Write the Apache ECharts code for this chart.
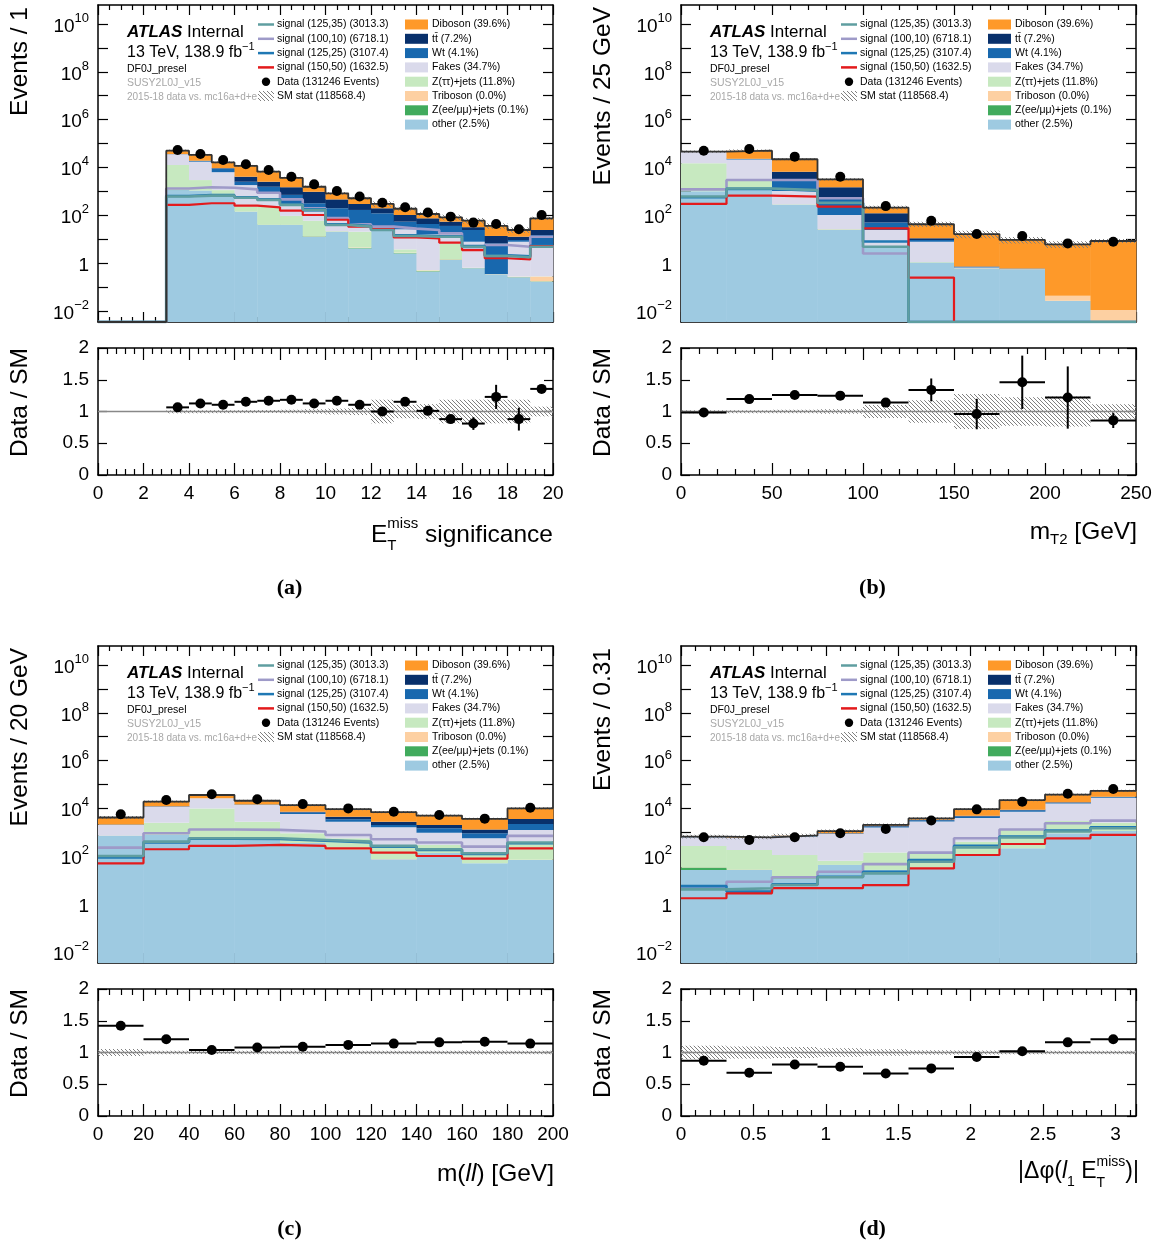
<!DOCTYPE html>
<html>
<head>
<meta charset="utf-8">
<title>ATLAS DF0J_presel distributions</title>
<script src="https://cdn.jsdelivr.net/npm/echarts@6.0.0/dist/echarts.min.js"></script>
<style>
html,body{margin:0;padding:0;background:#ffffff;}
#chart{width:1161px;height:1245px;}
</style>
</head>
<body>
<div id="chart"></div>
<script>
// ================= DATA =================
// ---- (a) ETmiss significance, bin width 1 ----
const edgesA = [0,1,2,3,4,5,6,7,8,9,10,11,12,13,14,15,16,17,18,19,20];
const otherA = [0,0,0,1122,1072,708,141,38.9,38.9,12.6,20.4,4.07,24.0,2.51,0.437,1.35,0.603,0.316,0.251,0.166];
const zeeA   = [0,0,0,5,4,3,2,1,1,0.5,0.3,0.2,0.3,0.1,0.02,0.05,0.01,0.005,0.005,0.005];
const tribA  = [0,0,0,1,1,1,1,0.5,0.5,0.3,0.3,0.2,0.2,0.1,0.03,0.05,0.01,0.005,0.01,0.1];
const zttA   = [0,0,0,11460,1874,410,85,189,53,45.5,0.5,15.9,0.6,1.0,0.02,5.16,0.01,0.005,0.005,0.005];
const fakesA = [0,0,0,22890,14427,5188,1591,584,202,82,60,25.3,5.8,22,15.7,12,7.13,0.01,7.49,5.34];
const wtA    = [0,0,0,300,1243,2603,692,736,413,175,114,120,89,28,26.5,16.9,16.2,6.27,1.36,9.2];
const ttA    = [0,0,0,300,434,420,1562,963,771,639,262,129,75,48.3,31.4,18.2,7.6,6.9,3.5,9.2];
const dibA   = [0,0,0,14040,14058,6885,7408,4095,2152,594,356,218,100,84,38,27.6,27.3,22,11.4,50.1];
const dataA  = [null,null,null,53700,36300,20400,13500,7760,4070,1950,1020,603,331,214,129,87,49,42.7,25.7,102];
const ratioA = [null,null,null,1.065,1.127,1.106,1.153,1.169,1.184,1.127,1.169,1.106,1.0,1.153,1.01,0.88,0.81,1.23,0.88,1.356];
const ratioErrA = [null,null,null,0.01,0.012,0.015,0.02,0.025,0.03,0.035,0.04,0.045,0.05,0.06,0.05,0.06,0.1,0.19,0.18,0.04];
const statErrA  = [0,0,0,0.003,0.004,0.005,0.006,0.008,0.012,0.02,0.03,0.04,0.17,0.09,0.1,0.17,0.17,0.17,0.17,0.06];
const sigTealA   = [0,0,0,603,661,661,537,437,269,166,38.9,33.1,24.0,13.5,12.6,12.6,4.79,1.95,1.74,4.79];
const sigPurpleA = [0,0,0,1318,1479,1413,1202,871,457,195,75.9,41.7,33.1,27.5,24.0,17.4,4.57,5.62,4.79,12.6];
const sigBlueA   = [0,0,0,640,700,690,560,460,285,175,42,35,26,14.5,13.4,13.2,5.1,2.1,1.9,5.2];
const sigRedA    = [0,0,0,269,316,316,251,214,155,102,64.6,33.1,26.3,11.7,10.7,7.08,3.47,1.58,1.41,5.13];

// ---- (b) mT2, bin width 25 GeV ----
const edgesB = [0,25,50,75,100,125,150,175,200,225,250];
const otherB = [1000,1413,269,24,4.57,1.02,0.60,0.51,0.0263,0];
const zeeB   = [5,5,2,0.5,0.1,0.02,0.005,0.005,0,0];
const tribB  = [1,1,1,0.5,0.1,0.02,0.01,0.01,0.0164,0.0107];
const zttB   = [13785,1399,10,1,0.2,0.02,0.005,0.005,0,0];
const fakesB = [28861,18562,741,76,19,6.7,0.03,0.02,0,0];
const wtB    = [200,1007,2139,411,25,1.36,0.03,0.02,0,0];
const ttB    = [200,522,3445,966,71,1.6,0.03,0.02,0,0];
const dibB   = [1657,27210,15271,1683,89,31,15.5,8.6,5.99,8.31];
const dataB  = [50100,58900,28200,4070,240,58.9,16.2,13.5,6.61,7.76];
const ratioB = [0.985,1.195,1.26,1.25,1.14,1.34,0.96,1.46,1.22,0.86];
const ratioErrB = [0.01,0.01,0.015,0.03,0.07,0.18,0.24,0.42,0.49,0.12];
const statErrB  = [0.005,0.005,0.01,0.02,0.085,0.16,0.26,0.21,0.22,0.1];
const sigTealB   = [603,1318,1122,331,4.79,0,0,0,0,0];
const sigPurpleB = [1202,2951,2951,513,2.51,0,0,0,0,0];
const sigBlueB   = [562,1259,1047,316,7.9,0,0,0,0,0];
const sigRedB    = [295,661,603,229,28.2,0.245,0,0,0,0];

// ---- (c) m(ll), bin width 20 GeV ----
const edgesC = [0,20,40,60,80,100,120,140,160,180,200];
const otherC = [708,794,479,525,355,182,74.1,135,50.1,69.2];
const zeeC   = [3,3,3,3,2,1,1,1,0.5,0.5];
const tribC  = [1,1,1,1,1,1,0.5,0.5,0.5,0.5];
const zttC   = [12,1714,9517,2225,554,378,193,158,81,337];
const fakesC = [1318,9237,16303,11050,4976,2192,1353,660,430,852];
const wtC    = [47,274,200,650,873,794,420,524,350,980];
const ttC    = [49,280,200,200,483,919,712,563,406,1392];
const dibC   = [2031,6752,9605,6239,6560,4866,4164,2970,2313,6369];
const dataC  = [5700,22400,38900,24000,15100,10000,7240,5250,3720,10700];
const ratioC = [1.42,1.21,1.04,1.08,1.09,1.12,1.14,1.16,1.17,1.14];
const ratioErrC = [0.02,0.01,0.01,0.01,0.01,0.012,0.014,0.016,0.02,0.012];
const statErrC  = [0.04,0.01,0.008,0.01,0.01,0.012,0.012,0.013,0.015,0.01];
const sigTealC   = [102,407,562,562,479,407,269,195,132,372];
const sigPurpleC = [229,912,1318,1259,1072,776,513,372,251,708];
const sigBlueC   = [89,380,537,525,447,380,251,182,123,347];
const sigRedC    = [50.1,195,269,295,269,214,141,102,79.4,214];

// ---- (d) |dphi(l1, ETmiss)|, bin width 0.31 ----
const edgesD = [0,0.31416,0.62832,0.94248,1.25664,1.5708,1.88496,2.19911,2.51327,2.82743,3.14159];
const otherD = [26.3,26.3,11.7,42.7,26.3,31.6,112,214,912,1122];
const zeeD   = [7.6,1,0.5,1,0.5,0.5,1,1,2,3];
const tribD  = [0.2,0.2,0.2,0.3,0.3,0.3,0.5,1,1,1];
const zttD   = [235,154,100,20.6,114,100,284,1043,2036,1386];
const fakesD = [348,393,549,786,1444,2686,3583,5985,12898,25672];
const wtD    = [14,8,31,40,153,344,590,1074,1529,2016];
const ttD    = [15,8,16,21,124,149,327,392,819,703];
const dibD   = [15,26,33,210,180,491,4435,13677,19822,22800];
const dataD  = [617,479,617,912,1380,3090,9120,19055,40738,64565];
const ratioD = [0.87,0.68,0.81,0.775,0.67,0.75,0.93,1.02,1.16,1.21];
const ratioErrD = [0.04,0.04,0.035,0.03,0.02,0.015,0.01,0.008,0.006,0.005];
const statErrD  = [0.09,0.08,0.07,0.05,0.035,0.02,0.015,0.01,0.01,0.01];
const sigTealD   = [4.07,4.57,6.2,13.2,19.1,58.9,234,603,1072,1479];
const sigPurpleD = [5.37,8.51,13.2,22.4,46.8,141,562,1318,2399,3090];
const sigBlueD   = [5.6,3.3,6.6,13.8,22.4,69,269,661,1175,1622];
const sigRedD    = [1.74,2.8,4.6,4.6,6.2,30.9,112,324,562,776];

// tick labels / legend texts
const logTickExps  = [-2,-1,0,1,2,3,4,5,6,7,8,9,10];
const logLabelExps = [-2,0,2,4,6,8,10];
const sigLegend = ['signal (125,35) (3013.3)','signal (100,10) (6718.1)','signal (125,25) (3107.4)','signal (150,50) (1632.5)'];
const bkgLegend = ['Diboson (39.6%)','t\u0074\u0304 (7.2%)','Wt (4.1%)','Fakes (34.7%)','Z(\u03c4\u03c4)+jets (11.8%)','Triboson (0.0%)','Z(ee/\u03bc\u03bc)+jets (0.1%)','other (2.5%)'];

// ================= STYLE / LAYOUT =================
const FONT = '"Liberation Sans", Arial, Helvetica, sans-serif';
const STACK_COLORS = ['#9ecae1','#41ab5d','#fdd0a2','#c7e9c0','#dadaeb','#1868ae','#08306b','#fe9929']; // other,zee,trib,ztt,fakes,wt,tt,dib
const LEG_BKG_COLORS = ['#fe9929','#08306b','#1868ae','#dadaeb','#c7e9c0','#fdd0a2','#41ab5d','#9ecae1'];
const SIG_COLORS = ['#5f9ea0','#9e9ac8','#1f78b4','#e31a1c']; // (125,35),(100,10),(125,25),(150,50)
const YMIN = -2.469, YMAX = 10.795;
const W = 455, HM = 317, HR = 127;
const TITLE_SIZE = 24.5;

const panels = [
  {x:98,  yM:5,   yR:348, edges:edgesA, comps:[otherA,zeeA,tribA,zttA,fakesA,wtA,ttA,dibA], sigs:[sigTealA,sigPurpleA,sigBlueA,sigRedA], data:dataA, ratio:ratioA, rerr:ratioErrA, stat:statErrA, xInt:2,  minorM:4, minorR:5, showMax:true,  ytitle:'Events / 1',      label:'(a)'},
  {x:681, yM:5,   yR:348, edges:edgesB, comps:[otherB,zeeB,tribB,zttB,fakesB,wtB,ttB,dibB], sigs:[sigTealB,sigPurpleB,sigBlueB,sigRedB], data:dataB, ratio:ratioB, rerr:ratioErrB, stat:statErrB, xInt:50, minorM:5, minorR:5, showMax:true,  ytitle:'Events / 25 GeV', label:'(b)'},
  {x:98,  yM:646, yR:989, edges:edgesC, comps:[otherC,zeeC,tribC,zttC,fakesC,wtC,ttC,dibC], sigs:[sigTealC,sigPurpleC,sigBlueC,sigRedC], data:dataC, ratio:ratioC, rerr:ratioErrC, stat:statErrC, xInt:20, minorM:4, minorR:4, showMax:true,  ytitle:'Events / 20 GeV', label:'(c)'},
  {x:681, yM:646, yR:989, edges:edgesD, comps:[otherD,zeeD,tribD,zttD,fakesD,wtD,ttD,dibD], sigs:[sigTealD,sigPurpleD,sigBlueD,sigRedD], data:dataD, ratio:ratioD, rerr:ratioErrD, stat:statErrD, xInt:0.5,minorM:5, minorR:5, showMax:false, ytitle:'Events / 0.31',   label:'(d)'}
];

// hatch pattern
const hatchCanvas = (function(){
  const s = 4, c = document.createElement('canvas'); c.width = s; c.height = s;
  const g = c.getContext('2d'); g.strokeStyle = '#808080'; g.lineWidth = 1;
  g.beginPath(); g.moveTo(-1,-1); g.lineTo(s+1,s+1); g.moveTo(-1,s-1); g.lineTo(1,s+1); g.moveTo(s-1,-1); g.lineTo(s+1,1); g.stroke();
  return c;
})();
const HATCH = {image: hatchCanvas, repeat: 'repeat'};

function lg(v){ return (v > 0) ? Math.min(YMAX, Math.max(YMIN, Math.log10(v))) : YMIN; }
function powLabel(v){ const n = Math.round(v); if (n === 0) return '{b|1}'; return '{b|10}{e|' + (n < 0 ? '\u2212' + (-n) : n) + '}'; }
const POW_RICH = {
  b: {fontSize: 19, fontFamily: FONT, color: '#000', verticalAlign: 'bottom', lineHeight: 24},
  e: {fontSize: 13, fontFamily: FONT, color: '#000', verticalAlign: 'top', lineHeight: 13}
};
const AXLINE = {show:true, onZero:false, lineStyle:{color:'#000', width:1.5}};
const TICKSTYLE = {color:'#000', width:1.2};

const grids = [], xAxes = [], yAxes = [], series = [];

panels.forEach((P, p) => {
  const gM = 2*p, gR = 2*p+1;
  const n = P.edges.length - 1;
  const xmin = P.edges[0], xmax = P.edges[n];
  grids.push({left:P.x, top:P.yM, width:W, height:HM, show:false, outerBoundsMode:'none', containLabel:false});
  grids.push({left:P.x, top:P.yR, width:W, height:HR, show:false, outerBoundsMode:'none', containLabel:false});

  [[gM,false],[gR,true]].forEach(([g, isR]) => {
    const base = {type:'value', gridIndex:g, min:xmin, max:xmax, interval:P.xInt,
      axisLine:AXLINE, splitLine:{show:false}, minorSplitLine:{show:false},
      axisTick:{show:true, inside:true, length:isR?12:10, lineStyle:TICKSTYLE},
      minorTick:{show:true, splitNumber:isR?P.minorR:P.minorM, length:isR?6:5, lineStyle:TICKSTYLE}};
    xAxes.push(Object.assign({}, base, {position:'bottom',
      axisLabel: isR ? {show:true, fontSize:19, fontFamily:FONT, color:'#000', margin:9, showMinLabel:true, showMaxLabel:P.showMax} : {show:false}}));
    xAxes.push(Object.assign({}, base, {position:'top', axisLabel:{show:false}}));
  });
  const yMainBase = {type:'value', gridIndex:gM, min:YMIN, max:YMAX, axisLine:AXLINE, splitLine:{show:false},
    axisTick:{show:true, inside:true, length:10, customValues:logTickExps, lineStyle:TICKSTYLE}};
  yAxes.push(Object.assign({}, yMainBase, {position:'left',
    axisLabel:{show:true, customValues:logLabelExps, formatter:powLabel, rich:POW_RICH, margin:9}}));
  yAxes.push(Object.assign({}, yMainBase, {position:'right', axisLabel:{show:false}}));
  const yRBase = {type:'value', gridIndex:gR, min:0, max:2, interval:0.5, axisLine:AXLINE, splitLine:{show:false},
    axisTick:{show:true, inside:true, length:9, lineStyle:TICKSTYLE}};
  yAxes.push(Object.assign({}, yRBase, {position:'left',
    axisLabel:{show:true, fontSize:19, fontFamily:FONT, color:'#000', margin:9}}));
  yAxes.push(Object.assign({}, yRBase, {position:'right', axisLabel:{show:false}}));

  const xiM = 4*p, xiR = 4*p+2, yiM = 4*p, yiR = 4*p+2;

  // stacked backgrounds
  const cum = new Array(n).fill(0);
  const stackData = [];
  P.comps.forEach((arr, ci) => {
    for (let i = 0; i < n; i++) {
      const lo = cum[i], hi = lo + arr[i]; cum[i] = hi;
      if (arr[i] > 0) stackData.push([P.edges[i], P.edges[i+1], lg(lo), lg(hi), ci]);
    }
  });
  series.push({type:'custom', xAxisIndex:xiM, yAxisIndex:yiM, z:2, silent:true, data:stackData,
    renderItem:(params, api) => {
      const a = api.coord([api.value(0), api.value(3)]);
      const b = api.coord([api.value(1), api.value(2)]);
      return {type:'rect', shape:{x:a[0], y:a[1], width:b[0]-a[0]+0.4, height:b[1]-a[1]}, style:{fill:STACK_COLORS[api.value(4)]}};
    }});
  const total = cum.slice();

  // stat hatch on main
  const bandM = [];
  for (let i = 0; i < n; i++) if (total[i] > 0 && P.stat[i] > 0)
    bandM.push([P.edges[i], P.edges[i+1], lg(total[i]*(1-P.stat[i])), lg(total[i]*(1+P.stat[i]))]);
  series.push({type:'custom', xAxisIndex:xiM, yAxisIndex:yiM, z:3, silent:true, data:bandM,
    renderItem:(params, api) => {
      const a = api.coord([api.value(0), api.value(3)]);
      const b = api.coord([api.value(1), api.value(2)]);
      return {type:'rect', shape:{x:a[0], y:a[1]-1, width:b[0]-a[0], height:Math.max(2, b[1]-a[1]+2)}, style:{fill:HATCH}};
    }});

  // signals (drawn purple, blue, red, teal)
  [1,2,3,0].forEach((si, k) => {
    const vals = P.sigs[si];
    const pts = P.edges.map((e, i) => [e, lg(vals[Math.min(i, n-1)])]);
    series.push({type:'line', xAxisIndex:xiM, yAxisIndex:yiM, z:4+k*0.1, step:'end', symbol:'none', silent:true,
      data:pts, lineStyle:{color:SIG_COLORS[si], width: si===3 ? 2.2 : 2.6, opacity:1}});
  });

  // total outline
  series.push({type:'line', xAxisIndex:xiM, yAxisIndex:yiM, z:5, step:'end', symbol:'none', silent:true,
    data:P.edges.map((e, i) => [e, lg(total[Math.min(i, n-1)])]), lineStyle:{color:'#333', width:1.8, opacity:1}});

  // data points main
  const dpts = [];
  P.data.forEach((v, i) => { if (v != null) dpts.push([(P.edges[i]+P.edges[i+1])/2, lg(v)]); });
  series.push({type:'scatter', xAxisIndex:xiM, yAxisIndex:yiM, z:6, silent:true, symbol:'circle', symbolSize:10,
    itemStyle:{color:'#000', opacity:1}, data:dpts});

  // ratio: stat hatch band
  const bandR = [];
  for (let i = 0; i < n; i++) if (total[i] > 0 && P.stat[i] > 0)
    bandR.push([P.edges[i], P.edges[i+1], 1-P.stat[i], 1+P.stat[i]]);
  series.push({type:'custom', xAxisIndex:xiR, yAxisIndex:yiR, z:2, silent:true, data:bandR,
    renderItem:(params, api) => {
      const a = api.coord([api.value(0), api.value(3)]);
      const b = api.coord([api.value(1), api.value(2)]);
      return {type:'rect', shape:{x:a[0], y:a[1]-1, width:b[0]-a[0], height:Math.max(3, b[1]-a[1]+2)}, style:{fill:HATCH}};
    }});
  // unity line
  series.push({type:'line', xAxisIndex:xiR, yAxisIndex:yiR, z:3, symbol:'none', silent:true,
    data:[[xmin,1],[xmax,1]], lineStyle:{color:'#888', width:1.4, opacity:1}});
  // ratio error bars
  const rerr = [];
  P.ratio.forEach((r, i) => { if (r != null) rerr.push([P.edges[i], P.edges[i+1], r, P.rerr[i]]); });
  series.push({type:'custom', xAxisIndex:xiR, yAxisIndex:yiR, z:5, silent:true, data:rerr,
    renderItem:(params, api) => {
      const x0 = api.value(0), x1 = api.value(1), r = api.value(2), e = api.value(3);
      const pl = api.coord([x0, r]), pr = api.coord([x1, r]);
      const xc = (x0 + x1) / 2;
      const pt = api.coord([xc, r + e]), pb = api.coord([xc, r - e]);
      return {type:'group', children:[
        {type:'line', shape:{x1:pl[0], y1:pl[1], x2:pr[0], y2:pr[1]}, style:{stroke:'#000', lineWidth:2}},
        {type:'line', shape:{x1:pt[0], y1:pt[1], x2:pb[0], y2:pb[1]}, style:{stroke:'#000', lineWidth:2}}
      ]};
    }});
  series.push({type:'scatter', xAxisIndex:xiR, yAxisIndex:yiR, z:6, silent:true, symbol:'circle', symbolSize:10,
    itemStyle:{color:'#000', opacity:1}, data:rerr.map(d => [(d[0]+d[1])/2, d[2]])});
});

// ================= TEXT / LEGEND GRAPHICS =================
const mctx = document.createElement('canvas').getContext('2d');
function textW(t, size, italic){ mctx.font = (italic ? 'italic ' : '') + size + 'px ' + FONT; return mctx.measureText(t).width; }
function txt(x, y, text, size, opt){
  opt = opt || {};
  return {type:'text', x:x, y:y, rotation:opt.rotation || 0, silent:true, z:100,
    style:{text:text, fontSize:size, fontFamily:opt.family || FONT, fontWeight:opt.weight || 'normal', fontStyle:opt.italic ? 'italic' : 'normal',
      fill:opt.color || '#000', align:opt.align || 'left', textAlign:opt.align || 'left', verticalAlign:'middle', textVerticalAlign:'middle', rich:opt.rich}};
}
function composite(tokens, right, cy, out){
  const widths = tokens.map(tk => tk.t !== undefined ? textW(tk.t, tk.size, tk.italic)
      : Math.max(tk.sup ? textW(tk.sup, tk.size) : 0, tk.sub ? textW(tk.sub, tk.size) : 0));
  let x = right - widths.reduce((a, b) => a + b, 0);
  tokens.forEach((tk, i) => {
    if (tk.t !== undefined) out.push(txt(x, cy, tk.t, tk.size, {italic:tk.italic}));
    else {
      if (tk.sup) out.push(txt(x, cy - tk.up, tk.sup, tk.size));
      if (tk.sub) out.push(txt(x, cy + tk.down, tk.sub, tk.size));
    }
    x += widths[i];
  });
}

const G = [];
panels.forEach((P) => {
  const ox = P.x, oy = P.yM;
  G.push(txt(ox + 29, oy + 27, '{a|ATLAS} {n|Internal}', 17, {rich:{
    a:{fontSize:17, fontFamily:FONT, fontWeight:'bold', fontStyle:'italic', color:'#000'},
    n:{fontSize:17, fontFamily:FONT, color:'#000'}}}));
  G.push(txt(ox + 29, oy + 46, '{n|13 TeV, 138.9 fb}{s|\u22121}', 16, {rich:{
    n:{fontSize:16, fontFamily:FONT, color:'#000', verticalAlign:'bottom', lineHeight:20},
    s:{fontSize:11, fontFamily:FONT, color:'#000', verticalAlign:'top', lineHeight:11}}}));
  G.push(txt(ox + 29, oy + 64, 'DF0J_presel', 10.5));
  G.push(txt(ox + 29, oy + 78, 'SUSY2L0J_v15', 10.5, {color:'#a8a8a8'}));
  G.push(txt(ox + 29, oy + 92, '2015-18 data vs. mc16a+d+e', 10, {color:'#a8a8a8'}));
  const rowY = i => oy + 19.5 + 14.3 * i;
  sigLegend.forEach((t, i) => {
    G.push({type:'line', silent:true, z:100, shape:{x1:ox+160, y1:rowY(i), x2:ox+176, y2:rowY(i)}, style:{stroke:SIG_COLORS[i], lineWidth:2.5}});
    G.push(txt(ox + 179, rowY(i), t, 10.5));
  });
  G.push({type:'circle', silent:true, z:100, shape:{cx:ox+168, cy:rowY(4), r:4.2}, style:{fill:'#000'}});
  G.push(txt(ox + 179, rowY(4), 'Data (131246 Events)', 10.5));
  G.push({type:'rect', silent:true, z:100, shape:{x:ox+160, y:rowY(5)-5, width:16, height:10}, style:{fill:HATCH}});
  G.push(txt(ox + 179, rowY(5), 'SM stat (118568.4)', 10.5));
  bkgLegend.forEach((t, i) => {
    G.push({type:'rect', silent:true, z:100, shape:{x:ox+307, y:rowY(i)-5, width:23, height:10}, style:{fill:LEG_BKG_COLORS[i]}});
    G.push(txt(ox + 334, rowY(i), t, 10.5));
  });
  // y titles
  G.push(txt(P.x - 78, P.yM + 2, P.ytitle, TITLE_SIZE, {rotation:Math.PI/2, align:'right'}));
  G.push(txt(P.x - 78, P.yR, 'Data / SM', TITLE_SIZE, {rotation:Math.PI/2, align:'right'}));
  // panel label
  G.push(txt(P.x + W/2 - 36, P.yR + 240, P.label, 22, {family:'"Liberation Serif", "DejaVu Serif", serif', weight:'bold', align:'center'}));
});

// x titles
composite([{t:'E', size:TITLE_SIZE}, {sup:'miss', sub:'T', size:15, up:11, down:11}, {t:' significance', size:TITLE_SIZE}], 553, 535, G);
composite([{t:'m', size:TITLE_SIZE}, {sub:'T2', size:15, down:8}, {t:' [GeV]', size:TITLE_SIZE}], 1137, 532, G);
composite([{t:'m(', size:TITLE_SIZE}, {t:'ll', size:TITLE_SIZE, italic:true}, {t:') [GeV]', size:TITLE_SIZE}], 554, 1174, G);
composite([{t:'|\u0394\u03c6(', size:23}, {t:'l', size:23, italic:true}, {sub:'1', size:14, down:10}, {t:' E', size:23},
           {sup:'miss', sub:'T', size:14, up:10, down:11}, {t:')|', size:23}], 1139, 1172, G);

const option = {
  animation:false,
  backgroundColor:'#ffffff',
  grid:grids, xAxis:xAxes, yAxis:yAxes, series:series,
  graphic:{elements:G}
};

const chart = echarts.init(document.getElementById('chart'), null, {renderer:'canvas', width:1161, height:1245});
chart.setOption(option);
</script>
</body>
</html>
